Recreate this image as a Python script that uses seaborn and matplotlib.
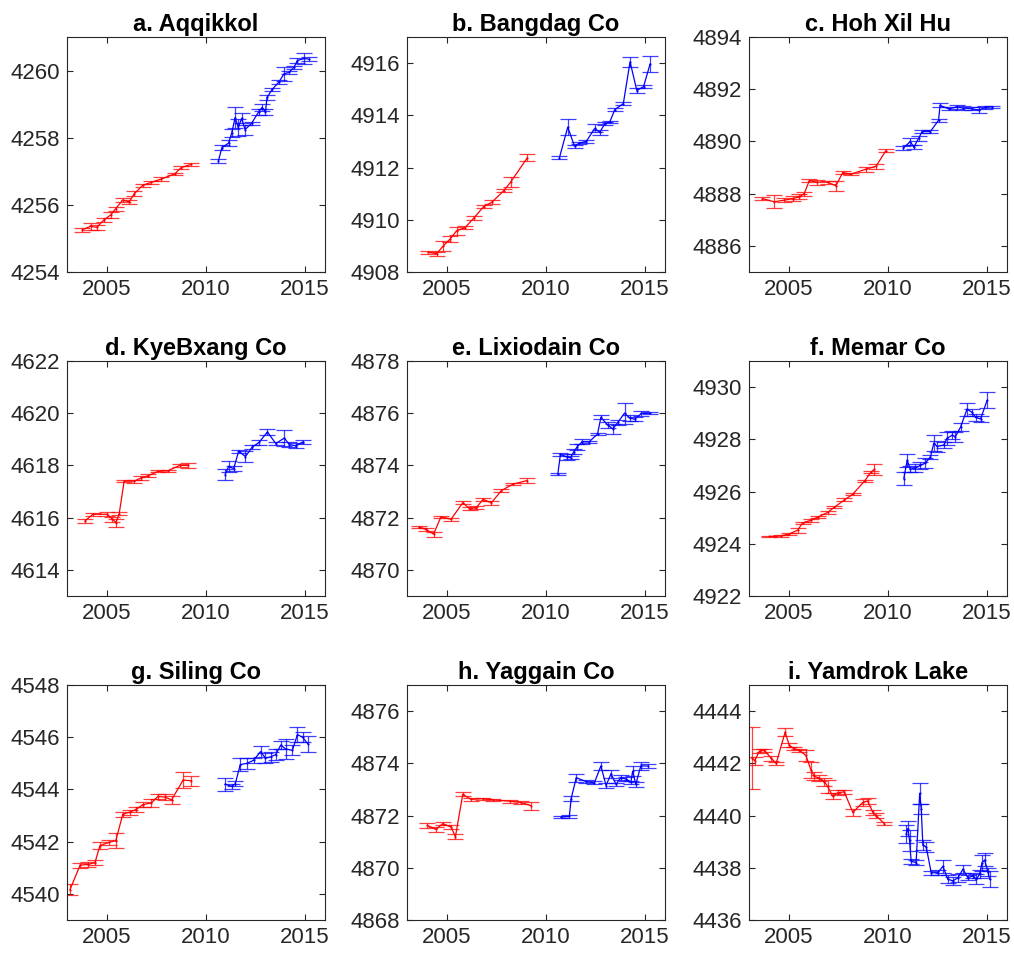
import matplotlib
matplotlib.use("Agg")
import matplotlib.pyplot as plt
import seaborn as sns
import numpy as np
import pandas as pd

# ---------------- data (decimal year, lake level m, error m) ----------------
titles = ["a. Aqqikkol", "b. Bangdag Co", "c. Hoh Xil Hu",
          "d. KyeBxang Co", "e. Lixiodain Co", "f. Memar Co",
          "g. Siling Co", "h. Yaggain Co", "i. Yamdrok Lake"]

a_ice_t = [2003.76, 2004.19, 2004.5, 2004.86, 2005.2, 2005.46, 2005.8, 2006.14, 2006.39, 2006.81, 2007.24, 2007.75, 2008.42, 2008.76, 2009.27]
a_ice_h = [4255.26, 4255.36, 4255.33, 4255.55, 4255.70, 4255.89, 4256.14, 4256.09, 4256.33, 4256.58, 4256.67, 4256.77, 4256.92, 4257.11, 4257.21]
a_ice_e = [0.06, 0.1, 0.08, 0.06, 0.08, 0.06, 0.06, 0.05, 0.08, 0.05, 0.04, 0.05, 0.04, 0.05, 0.05]
a_cry_t = [2010.63, 2010.8, 2011.14, 2011.3, 2011.47, 2011.63, 2011.8, 2011.97, 2012.3, 2012.66, 2012.83, 2013.0, 2013.08, 2013.34, 2013.68, 2013.93, 2014.19, 2014.44, 2014.61, 2014.95, 2015.2]
a_cry_h = [4257.31, 4257.7, 4257.84, 4258.14, 4258.6, 4258.3, 4258.58, 4258.24, 4258.43, 4258.77, 4258.9, 4258.77, 4259.2, 4259.44, 4259.66, 4259.9, 4259.95, 4260.1, 4260.3, 4260.36, 4260.34]
a_cry_e = [0.05, 0.08, 0.1, 0.12, 0.3, 0.25, 0.15, 0.15, 0.05, 0.1, 0.1, 0.1, 0.08, 0.05, 0.05, 0.2, 0.05, 0.05, 0.06, 0.15, 0.06]

b_ice_t = [2004.07, 2004.49, 2004.83, 2005.17, 2005.5, 2005.93, 2006.36, 2006.86, 2007.29, 2007.88, 2008.22, 2009.07]
b_ice_h = [4908.76, 4908.7, 4909.0, 4909.26, 4909.58, 4909.7, 4910.06, 4910.5, 4910.68, 4911.12, 4911.44, 4912.38]
b_ice_e = [0.06, 0.08, 0.2, 0.1, 0.15, 0.05, 0.08, 0.06, 0.06, 0.05, 0.2, 0.12]
b_cry_t = [2010.68, 2011.1, 2011.44, 2011.69, 2012.03, 2012.46, 2012.71, 2012.97, 2013.22, 2013.47, 2013.9, 2014.24, 2014.58, 2014.92, 2015.25]
b_cry_h = [4912.38, 4913.55, 4912.82, 4912.94, 4913.0, 4913.5, 4913.35, 4913.68, 4913.75, 4914.22, 4914.45, 4916.05, 4914.95, 4915.1, 4915.97]
b_cry_e = [0.05, 0.3, 0.06, 0.05, 0.06, 0.15, 0.1, 0.05, 0.05, 0.06, 0.05, 0.2, 0.1, 0.05, 0.3]

c_ice_t = [2003.68, 2004.27, 2004.77, 2005.2, 2005.53, 2005.78, 2006.04, 2006.45, 2006.96, 2007.38, 2007.72, 2008.14, 2008.9, 2009.4, 2009.9]
c_ice_h = [4887.81, 4887.69, 4887.75, 4887.81, 4887.88, 4888.0, 4888.5, 4888.44, 4888.44, 4888.3, 4888.81, 4888.75, 4888.94, 4889.05, 4889.65]
c_ice_e = [0.06, 0.25, 0.08, 0.1, 0.1, 0.08, 0.05, 0.1, 0.06, 0.2, 0.05, 0.05, 0.1, 0.1, 0.06]
c_cry_t = [2010.78, 2011.13, 2011.3, 2011.55, 2011.72, 2012.14, 2012.55, 2012.63, 2013.06, 2013.47, 2013.8, 2014.22, 2014.57, 2014.9, 2015.24]
c_cry_h = [4889.75, 4890.0, 4889.78, 4890.12, 4890.38, 4890.38, 4890.81, 4891.38, 4891.25, 4891.32, 4891.28, 4891.25, 4891.2, 4891.3, 4891.33]
c_cry_e = [0.06, 0.12, 0.08, 0.1, 0.06, 0.06, 0.05, 0.08, 0.06, 0.08, 0.08, 0.06, 0.1, 0.06, 0.04]

d_ice_t = [2003.9, 2004.3, 2005.03, 2005.29, 2005.46, 2005.63, 2005.88, 2006.39, 2006.73, 2007.07, 2007.58, 2008.09, 2008.68, 2009.1]
d_ice_h = [4615.87, 4616.13, 4616.13, 4615.94, 4615.81, 4616.15, 4617.4, 4617.4, 4617.52, 4617.6, 4617.77, 4617.8, 4618.0, 4618.0]
d_ice_e = [0.06, 0.05, 0.08, 0.1, 0.15, 0.05, 0.05, 0.06, 0.08, 0.06, 0.04, 0.04, 0.06, 0.1]
d_cry_t = [2010.97, 2011.14, 2011.4, 2011.65, 2011.99, 2012.33, 2012.67, 2013.1, 2013.52, 2013.95, 2014.2, 2014.54, 2014.88]
d_cry_h = [4617.65, 4617.96, 4617.88, 4618.55, 4618.34, 4618.7, 4618.88, 4619.28, 4618.84, 4619.05, 4618.8, 4618.75, 4618.9]
d_cry_e = [0.2, 0.2, 0.08, 0.06, 0.2, 0.08, 0.1, 0.12, 0.05, 0.3, 0.1, 0.1, 0.08]

e_ice_t = [2003.61, 2003.95, 2004.34, 2004.71, 2005.22, 2005.81, 2006.15, 2006.49, 2006.83, 2007.25, 2007.76, 2008.36, 2009.04]
e_ice_h = [4871.65, 4871.55, 4871.37, 4872.03, 4871.94, 4872.57, 4872.35, 4872.38, 4872.7, 4872.57, 4873.04, 4873.29, 4873.42]
e_ice_e = [0.05, 0.05, 0.1, 0.05, 0.05, 0.05, 0.05, 0.05, 0.05, 0.08, 0.05, 0.04, 0.1]
e_cry_t = [2010.6, 2010.73, 2011.07, 2011.24, 2011.41, 2011.58, 2011.83, 2012.17, 2012.6, 2012.77, 2013.11, 2013.37, 2013.62, 2013.96, 2014.22, 2014.47, 2014.81, 2015.24]
e_cry_h = [4873.67, 4874.42, 4874.32, 4874.3, 4874.53, 4874.72, 4874.91, 4874.9, 4875.2, 4875.84, 4875.55, 4875.4, 4875.65, 4876.0, 4875.82, 4875.77, 4875.99, 4876.0]
e_cry_e = [0.03, 0.05, 0.1, 0.06, 0.1, 0.12, 0.1, 0.05, 0.05, 0.08, 0.1, 0.2, 0.1, 0.4, 0.1, 0.08, 0.1, 0.04]

f_ice_t = [2004.03, 2004.62, 2005.03, 2005.45, 2005.7, 2006.12, 2006.46, 2006.96, 2007.3, 2007.81, 2008.23, 2008.82, 2009.15, 2009.32]
f_ice_h = [4924.28, 4924.3, 4924.38, 4924.52, 4924.8, 4924.9, 4925.02, 4925.2, 4925.4, 4925.68, 4925.9, 4926.4, 4926.75, 4926.85]
f_ice_e = [0.03, 0.03, 0.05, 0.1, 0.04, 0.06, 0.05, 0.05, 0.04, 0.06, 0.03, 0.05, 0.05, 0.2]
f_cry_t = [2010.8, 2010.97, 2011.13, 2011.38, 2011.64, 2011.89, 2012.14, 2012.31, 2012.48, 2012.82, 2012.98, 2013.24, 2013.4, 2013.66, 2013.99, 2014.24, 2014.42, 2014.67, 2015.0]
f_cry_h = [4926.5, 4927.2, 4926.85, 4926.9, 4927.0, 4927.1, 4927.32, 4927.85, 4927.73, 4927.78, 4928.04, 4928.16, 4928.1, 4928.47, 4929.16, 4929.03, 4928.84, 4928.78, 4929.5]
f_cry_e = [0.25, 0.25, 0.12, 0.15, 0.12, 0.2, 0.08, 0.3, 0.2, 0.1, 0.25, 0.15, 0.2, 0.15, 0.25, 0.12, 0.12, 0.1, 0.3]

g_ice_t = [2003.15, 2003.66, 2004.08, 2004.41, 2004.66, 2005.1, 2005.46, 2005.81, 2006.15, 2006.48, 2006.82, 2007.25, 2007.58, 2007.92, 2008.27, 2008.85, 2009.27]
g_ice_h = [4540.16, 4541.1, 4541.13, 4541.2, 4541.85, 4541.97, 4542.04, 4543.05, 4543.13, 4543.23, 4543.42, 4543.48, 4543.73, 4543.71, 4543.6, 4544.36, 4544.33]
g_ice_e = [0.2, 0.1, 0.1, 0.1, 0.15, 0.1, 0.3, 0.1, 0.1, 0.1, 0.1, 0.15, 0.08, 0.1, 0.15, 0.3, 0.2]
g_cry_t = [2010.97, 2011.3, 2011.48, 2011.73, 2012.07, 2012.41, 2012.75, 2013.0, 2013.26, 2013.51, 2013.77, 2014.02, 2014.36, 2014.61, 2014.87, 2015.13]
g_cry_h = [4544.2, 4544.12, 4544.22, 4544.95, 4545.0, 4545.12, 4545.45, 4545.2, 4545.25, 4545.33, 4545.7, 4545.55, 4545.5, 4546.1, 4546.0, 4545.75]
g_cry_e = [0.25, 0.1, 0.1, 0.25, 0.2, 0.1, 0.2, 0.2, 0.2, 0.2, 0.15, 0.4, 0.2, 0.3, 0.2, 0.3]

h_ice_t = [2004.03, 2004.46, 2004.8, 2005.22, 2005.44, 2005.81, 2006.23, 2006.83, 2007.33, 2008.17, 2008.76, 2009.27]
h_ice_h = [4871.62, 4871.47, 4871.69, 4871.56, 4871.19, 4872.81, 4872.62, 4872.65, 4872.6, 4872.55, 4872.5, 4872.37]
h_ice_e = [0.08, 0.1, 0.05, 0.06, 0.1, 0.08, 0.05, 0.04, 0.03, 0.06, 0.06, 0.15]
h_cry_t = [2010.77, 2011.18, 2011.27, 2011.53, 2012.03, 2012.44, 2012.77, 2013.03, 2013.28, 2013.53, 2013.78, 2014.03, 2014.28, 2014.37, 2014.53, 2014.78, 2015.12]
h_cry_h = [4871.94, 4871.97, 4872.65, 4873.45, 4873.3, 4873.25, 4873.9, 4873.15, 4873.6, 4873.2, 4873.45, 4873.4, 4873.28, 4873.7, 4873.2, 4873.9, 4873.9]
h_cry_e = [0.05, 0.05, 0.1, 0.15, 0.06, 0.06, 0.15, 0.1, 0.15, 0.06, 0.1, 0.06, 0.06, 0.2, 0.1, 0.15, 0.06]

i_ice_t = [2003.15, 2003.28, 2003.53, 2003.78, 2004.12, 2004.37, 2004.82, 2005.03, 2005.28, 2005.53, 2005.87, 2006.12, 2006.29, 2006.54, 2006.79, 2006.96, 2007.21, 2007.47, 2007.8, 2008.23, 2008.73, 2008.98, 2009.24, 2009.4, 2009.82]
i_ice_h = [4442.2, 4442.1, 4442.47, 4442.5, 4442.19, 4442.0, 4443.19, 4442.69, 4442.56, 4442.5, 4442.3, 4441.75, 4441.5, 4441.44, 4441.3, 4441.12, 4440.75, 4440.87, 4440.91, 4440.12, 4440.5, 4440.56, 4440.12, 4440.0, 4439.69]
i_ice_e = [1.2, 0.15, 0.08, 0.05, 0.1, 0.05, 0.15, 0.08, 0.06, 0.06, 0.2, 0.3, 0.15, 0.1, 0.15, 0.25, 0.1, 0.1, 0.08, 0.12, 0.15, 0.1, 0.1, 0.08, 0.06]
i_cry_t = [2010.92, 2011.0, 2011.09, 2011.17, 2011.42, 2011.6, 2011.68, 2011.76, 2011.93, 2012.18, 2012.52, 2012.77, 2013.02, 2013.28, 2013.53, 2013.78, 2014.03, 2014.29, 2014.45, 2014.62, 2014.74, 2014.87, 2015.04, 2015.12]
i_cry_h = [4439.3, 4439.5, 4439.05, 4438.25, 4438.2, 4440.85, 4440.25, 4438.87, 4438.8, 4437.81, 4437.81, 4438.06, 4437.56, 4437.5, 4437.62, 4437.95, 4437.62, 4437.69, 4437.56, 4437.75, 4438.19, 4438.3, 4437.85, 4437.56]
i_cry_e = [0.35, 0.3, 0.4, 0.1, 0.1, 0.4, 0.2, 0.2, 0.2, 0.08, 0.1, 0.25, 0.15, 0.15, 0.15, 0.15, 0.1, 0.1, 0.2, 0.15, 0.3, 0.25, 0.15, 0.3]

ylims = [(4254, 4261), (4908, 4917), (4885, 4894),
         (4613, 4622), (4869, 4878), (4922, 4931),
         (4539, 4548), (4868, 4877), (4436, 4445)]

series = [
    (a_ice_t, a_ice_h, a_ice_e, a_cry_t, a_cry_h, a_cry_e),
    (b_ice_t, b_ice_h, b_ice_e, b_cry_t, b_cry_h, b_cry_e),
    (c_ice_t, c_ice_h, c_ice_e, c_cry_t, c_cry_h, c_cry_e),
    (d_ice_t, d_ice_h, d_ice_e, d_cry_t, d_cry_h, d_cry_e),
    (e_ice_t, e_ice_h, e_ice_e, e_cry_t, e_cry_h, e_cry_e),
    (f_ice_t, f_ice_h, f_ice_e, f_cry_t, f_cry_h, f_cry_e),
    (g_ice_t, g_ice_h, g_ice_e, g_cry_t, g_cry_h, g_cry_e),
    (h_ice_t, h_ice_h, h_ice_e, h_cry_t, h_cry_h, h_cry_e),
    (i_ice_t, i_ice_h, i_ice_e, i_cry_t, i_cry_h, i_cry_e),
]

xticks = [2005, 2010, 2015]

# ---------------- style ----------------
sns.set_theme(style="white")
plt.rcParams['font.family'] = ['Liberation Sans', 'DejaVu Sans']

fig = plt.figure(figsize=(10.14, 9.56), dpi=100)

lefts = [67, 407, 749]
bottoms_px = [272, 596, 920]
W, H = 258, 235
FW, FH = 1014, 956

ax_col = '#262626'
for k in range(9):
    r, c = divmod(k, 3)
    ax = fig.add_axes([lefts[c] / FW, 1 - bottoms_px[r] / FH, W / FW, H / FH])
    t1, h1, e1, t2, h2, e2 = series[k]
    for t, h, e, col in [(t1, h1, e1, '#ff0000'), (t2, h2, e2, '#0000ff')]:
        df = pd.DataFrame({'t': t, 'h': h})
        sns.lineplot(data=df, x='t', y='h', ax=ax, color=col, lw=0.9,
                     marker='.', markersize=3, markeredgewidth=0, sort=False,
                     estimator=None, legend=False)
        ax.errorbar(t, h, yerr=e, fmt='none', ecolor=col, elinewidth=0.9,
                    capsize=6, capthick=0.9, alpha=0.75)
    ax.set_xlim(2003, 2016)
    ax.set_ylim(*ylims[k])
    lo, hi = ylims[k]
    start = lo if lo % 2 == 0 else lo + 1
    ax.set_yticks(np.arange(start, hi + 0.01, 2))
    ax.set_xticks(xticks)
    ax.set_xlabel('')
    ax.set_ylabel('')
    ax.set_title(titles[k], fontsize=17, fontweight='bold', color='black', pad=4)
    ax.tick_params(direction='in', length=4, width=0.8, colors=ax_col,
                   labelsize=16, top=True, right=True, bottom=True, left=True,
                   labelcolor=ax_col, pad=5)
    for s in ax.spines.values():
        s.set_color(ax_col)
        s.set_linewidth(0.8)
    ax.yaxis.set_major_formatter(matplotlib.ticker.FormatStrFormatter('%d'))

fig.savefig('out.png', dpi=100, facecolor='white')
